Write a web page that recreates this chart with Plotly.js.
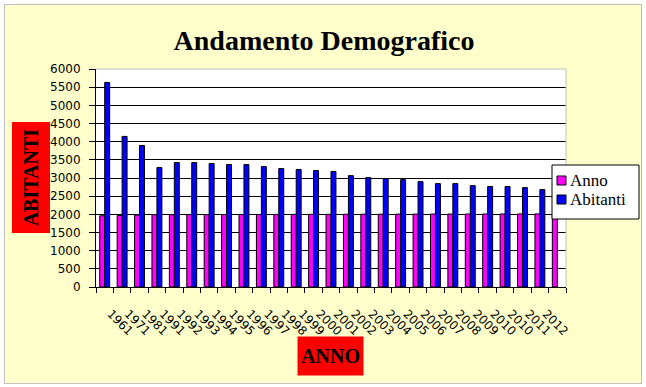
<!DOCTYPE html>
<html>
<head>
<meta charset="utf-8">
<script src="https://cdn.plot.ly/plotly-3.0.1.min.js"></script>
<style>
  html, body { margin: 0; padding: 0; background: #ffffff; width: 646px; height: 387px; overflow: hidden; }
  #frame { position: absolute; left: 4px; top: 4px; width: 636px; height: 378px; border: 1px solid #c0c0c0; background: #ffffcc; }
  #chart { position: absolute; left: 0; top: 0; width: 636px; height: 378px; }
</style>
</head>
<body>
<div id="frame"><div id="chart"></div></div>
<script>
// ---- data ----
var categories = ["1961","1971","1981","1991","1992","1993","1994","1995","1996","1997","1998","1999",
                  "2000","2001","2002","2003","2004","2005","2006","2007","2008","2009","2010","2010","2011","2012",""];
var anno = [1961,1971,1981,1991,1992,1993,1994,1995,1996,1997,1998,1999,
            2000,2001,2002,2003,2004,2005,2006,2007,2008,2009,2010,2010,2011,2012,2012];
var abitanti = [5630,4145,3895,3290,3425,3425,3400,3370,3370,3315,3260,3235,
                3205,3180,3065,3010,2985,2955,2900,2845,2845,2790,2765,2765,2735,2680,null];
var seriesNames = ["Anno","Abitanti"];
var seriesColors = ["#ff00ff","#0000ff"];
var chartTitle = "Andamento Demografico";
var yTitle = "ABITANTI";
var xTitle = "ANNO";

// ---- layout geometry (pixels inside the frame) ----
var W = 636, H = 378;
var M = { l: 91, r: 75, t: 64, b: 96 };
var PW = W - M.l - M.r, PH = H - M.t - M.b;
var OX = 5, OY = 5; // frame offset on the page (incl. border)
function px(x) { return (x - OX - M.l) / PW; }          // page x -> paper x
function py(y) { return (H - M.b - (y - OY)) / PH; }    // page y -> paper y

var idx = categories.map(function (c, i) { return i; });

var traces = [
  { type: "bar", name: seriesNames[0], x: idx, y: anno, showlegend: false,
    marker: { color: seriesColors[0], line: { color: "#000000", width: 1 } }, hoverinfo: "none" },
  { type: "bar", name: seriesNames[1], x: idx, y: abitanti, showlegend: false,
    marker: { color: seriesColors[1], line: { color: "#000000", width: 1 } }, hoverinfo: "none" }
];

var tickFont = { family: "DejaVu Sans", size: 12, color: "#000000" };
var serif = "Liberation Serif, Times New Roman, serif";

var shapes = [
  // plot-area top and right border (grey)
  { type: "line", xref: "paper", yref: "paper", x0: 0, x1: 1, y0: 1, y1: 1, line: { color: "#c0c0c0", width: 1 } },
  { type: "line", xref: "paper", yref: "paper", x0: 1, x1: 1, y0: 0, y1: 1, line: { color: "#c0c0c0", width: 1 } },
  // legend box
  { type: "rect", xref: "paper", yref: "paper", x0: px(552), x1: px(639), y0: py(165), y1: py(219),
    fillcolor: "#ffffff", line: { color: "#000000", width: 1 }, layer: "above" },
  { type: "rect", xref: "paper", yref: "paper", x0: px(557), x1: px(566), y0: py(176), y1: py(185),
    fillcolor: seriesColors[0], line: { color: "#000000", width: 1 }, layer: "above" },
  { type: "rect", xref: "paper", yref: "paper", x0: px(557), x1: px(566), y0: py(195), y1: py(204),
    fillcolor: seriesColors[1], line: { color: "#000000", width: 1 }, layer: "above" }
];

var annotations = [
  { text: seriesNames[0], xref: "paper", yref: "paper", x: px(568), y: py(180.5), xanchor: "left", yanchor: "middle",
    showarrow: false, font: { family: serif, size: 17, color: "#000000" } },
  { text: seriesNames[1], xref: "paper", yref: "paper", x: px(568), y: py(199.5), xanchor: "left", yanchor: "middle",
    showarrow: false, font: { family: serif, size: 17, color: "#000000" } },
  { text: "<b>" + yTitle + "</b>", xref: "paper", yref: "paper", x: px(30.5), y: py(178), xanchor: "center", yanchor: "middle",
    textangle: -90, showarrow: false, bgcolor: "#ff0000", width: 110, height: 37, borderpad: 0,
    font: { family: serif, size: 20, color: "#000000" } },
  { text: "<b>" + xTitle + "</b>", xref: "paper", yref: "paper", x: px(330), y: py(356), xanchor: "center", yanchor: "middle",
    showarrow: false, bgcolor: "#ff0000", width: 65, height: 38, borderpad: 0,
    font: { family: serif, size: 20, color: "#000000" } }
];

var layout = {
  width: W, height: H,
  margin: M,
  paper_bgcolor: "#ffffcc",
  plot_bgcolor: "#ffffff",
  showlegend: false,
  barmode: "group",
  bargap: 0.43,
  bargroupgap: 0,
  title: { text: "<b>" + chartTitle + "</b>", x: (324 - OX) / W, xanchor: "center", y: 1 - (40 - OY) / H, yanchor: "middle",
           font: { family: serif, size: 28, color: "#000000" } },
  xaxis: {
    range: [-0.5, categories.length - 0.5],
    tickmode: "array", tickvals: idx, ticktext: categories,
    tickangle: 45, ticks: "outside", ticklen: 0, tickcolor: "#000000",
    ticklabelstandoff: 14, ticklabelshift: 6,
    minor: { tickmode: "linear", tick0: -0.5, dtick: 1, ticks: "outside", ticklen: 5, tickcolor: "#000000", showgrid: false },
    showline: true, linecolor: "#000000", linewidth: 1,
    showgrid: false, zeroline: false,
    tickfont: tickFont, fixedrange: true
  },
  yaxis: {
    range: [0, 6000], dtick: 500, tick0: 0,
    ticks: "outside", ticklen: 6, tickcolor: "#000000", ticklabelstandoff: 6,
    showline: true, linecolor: "#000000", linewidth: 1,
    showgrid: true, gridcolor: "#000000", gridwidth: 1, zeroline: false,
    tickfont: tickFont, fixedrange: true
  },
  shapes: shapes,
  annotations: annotations
};

Plotly.newPlot("chart", traces, layout, { staticPlot: true, displayModeBar: false });
</script>
</body>
</html>
